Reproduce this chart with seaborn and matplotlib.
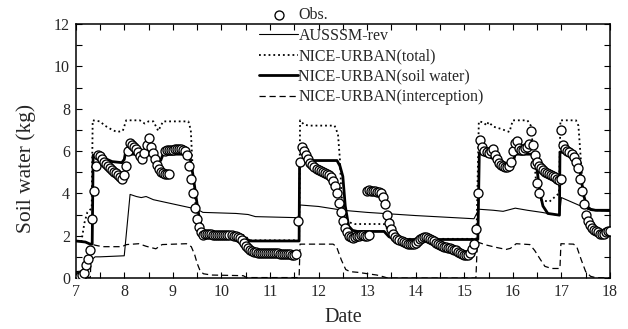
import numpy as np
import pandas as pd
import matplotlib
matplotlib.use("Agg")
import matplotlib.pyplot as plt
import seaborn as sns
from matplotlib.ticker import MultipleLocator

sns.set_theme(style="ticks")
plt.rcParams["font.family"] = ["Liberation Serif", "DejaVu Serif"]

# ---- model output (day of month, kg) ----
aus_t = [7.0, 7.2, 7.3, 7.4, 7.5, 8.0, 8.06, 8.12, 8.25, 8.35, 8.45, 8.6, 9.0, 9.5,
         9.62, 10.3, 10.55, 10.7, 11.58, 11.62, 12.0, 12.5, 13.0, 14.0, 15.2, 15.3,
         15.6, 15.8, 16.05, 16.3, 16.6, 16.96, 17.0, 17.2, 17.6, 18.0]
aus_v = [0.3, 0.35, 0.8, 1.0, 1.0, 1.05, 2.5, 3.95, 3.85, 3.8, 3.85, 3.7, 3.5, 3.25,
         3.1, 3.05, 3.0, 2.9, 2.85, 3.45, 3.38, 3.2, 3.1, 2.95, 2.8, 3.25,
         3.2, 3.15, 3.3, 3.2, 3.1, 2.95, 3.8, 3.6, 3.2, 3.15]

tot_t = [7.0, 7.12, 7.18, 7.24, 7.33, 7.35, 7.5, 7.6, 7.75, 7.85, 7.97, 8.04, 8.32,
         8.42, 8.5, 8.6, 8.7, 8.8, 9.32, 9.37, 9.42, 9.48, 9.53, 9.6, 9.75, 10.3,
         10.45, 10.6, 11.6, 11.62, 11.7, 11.8, 12.33, 12.4, 12.44, 12.47, 12.53,
         12.6, 12.75, 13.35, 13.42, 13.5, 13.6, 15.25, 15.3, 15.4, 15.46, 15.5, 15.6,
         15.75, 15.93, 16.0, 16.3, 16.37, 16.44, 16.48, 16.56, 16.75, 16.95, 16.98,
         17.3, 17.35, 17.4, 17.44, 17.48, 17.6, 18.0]
tot_v = [1.75, 1.75, 2.6, 3.1, 3.3, 7.45, 7.4, 7.2, 7.0, 6.9, 6.95, 7.45, 7.45,
         7.3, 7.4, 7.4, 6.95, 7.4, 7.4, 7.0, 4.6, 3.2, 2.4, 2.15, 2.1, 2.05,
         2.03, 1.78, 1.78, 7.45, 7.25, 7.2, 7.2, 6.8, 5.6, 4.0, 2.9,
         2.65, 2.55, 2.55, 2.3, 1.95, 1.85, 1.85, 7.4, 7.35, 7.2, 7.37, 7.15,
         7.05, 6.9, 7.45, 7.45, 7.2, 5.6, 4.5, 3.7, 3.6, 4.0, 7.45,
         7.45, 7.2, 5.6, 4.3, 3.35, 3.2, 3.2]

soil_t = [7.0, 7.2, 7.3, 7.34, 7.36, 7.5, 7.75, 7.95, 8.0, 8.02, 8.65, 8.7, 8.75,
          8.8, 9.3, 9.36, 9.42, 9.48, 9.54, 9.6, 9.66, 9.75, 10.3, 10.45, 10.55,
          10.6, 11.6, 11.61, 12.38, 12.44, 12.5, 12.55, 12.62, 12.7, 12.8, 13.35,
          13.45, 13.55, 13.65, 15.28, 15.31, 15.5, 15.75, 15.95, 16.02, 16.05, 16.4,
          16.45, 16.5, 16.56, 16.62, 16.72, 16.96, 16.97, 17.25, 17.33, 17.4, 17.46,
          17.52, 17.6, 17.7, 18.0]
soil_v = [1.75, 1.7, 1.6, 1.6, 5.8, 5.75, 5.5, 5.45, 5.6, 5.85, 5.85, 5.65, 5.55,
          5.85, 5.85, 5.6, 4.8, 3.8, 2.9, 2.3, 2.05, 2.0, 1.98, 1.95, 1.8,
          1.75, 1.75, 5.55, 5.55, 5.3, 4.8, 3.4, 2.45, 2.25, 2.2, 2.2,
          1.95, 1.85, 1.82, 1.82, 5.9, 5.75, 5.45, 5.4, 5.6, 5.85, 5.85,
          5.5, 5.1, 4.0, 3.4, 3.05, 2.97, 5.95, 5.9, 5.6, 4.8, 3.9,
          3.4, 3.25, 3.2, 3.2]

icp_t = [7.0, 7.3, 7.33, 7.4, 7.55, 7.95, 8.05, 8.3, 8.45, 8.65, 8.78, 9.28, 9.38,
         9.45, 9.5, 9.56, 9.63, 9.8, 10.45, 10.52, 11.6, 11.62, 12.3, 12.37, 12.47,
         12.56, 12.65, 12.8, 13.2, 13.35, 13.42, 15.24, 15.27, 15.45, 15.65, 15.86,
         15.95, 16.07, 16.35, 16.45, 16.56, 16.66, 16.8, 16.97, 16.99, 17.25, 17.32,
         17.41, 17.5, 17.6, 17.7, 18.0]
icp_v = [0.02, 0.02, 1.6, 1.55, 1.48, 1.48, 1.58, 1.62, 1.5, 1.38, 1.58, 1.62, 1.48,
         1.1, 0.7, 0.35, 0.2, 0.14, 0.11, 0.02, 0.02, 1.6, 1.6, 1.48, 0.85,
         0.4, 0.3, 0.27, 0.14, 0.05, 0.0, 0.0, 1.7, 1.56, 1.45, 1.35,
         1.4, 1.62, 1.58, 1.3, 0.9, 0.55, 0.45, 0.45, 1.62, 1.6, 1.45,
         0.85, 0.3, 0.08, 0.02, 0.0]

# ---- hourly observations, one list per continuous record ----
obs_start = [7.0, 8 + 20 / 24, 13.0, 16 + 11 / 24, 17.0]
obs_vals = [
    [0.05, 0.05, 0.08, 0.15, 0.25, 0.6, 0.9, 1.3, 2.8, 4.1, 5.3, 5.8, 5.75, 5.6, 5.5,
     5.4, 5.3, 5.2, 5.1, 5.0, 4.95, 4.85, 4.75, 4.7, 4.85, 5.3, 6.0, 6.4, 6.3, 6.2,
     6.1, 5.95, 5.75, 5.6, 5.9, 6.3, 6.6, 6.2, 5.9, 5.6, 5.35, 5.15, 5.0, 4.95, 4.9,
     4.9, 4.9],
    [6.0, 6.05, 6.05, 6.05, 6.05, 6.1, 6.1, 6.1, 6.1, 6.05, 6.0, 5.8, 5.3, 4.7, 4.0,
     3.3, 2.8, 2.4, 2.15, 2.05, 2.1, 2.1, 2.1, 2.1, 2.05, 2.05, 2.05, 2.05, 2.05, 2.05,
     2.05, 2.05, 2.05, 2.05, 2.0, 2.0, 1.95, 1.9, 1.8, 1.65, 1.5, 1.4, 1.32, 1.27,
     1.25, 1.22, 1.2, 1.2, 1.2, 1.2, 1.18, 1.18, 1.18, 1.17, 1.17, 1.16, 1.16, 1.15,
     1.15, 1.14, 1.13, 1.12, 1.12, 1.1, 1.1, 1.12, 2.7, 5.5, 6.2, 6.0, 5.8, 5.6, 5.45,
     5.35, 5.25, 5.15, 5.1, 5.05, 5.0, 4.95, 4.9, 4.85, 4.75, 4.6, 4.35, 4.0, 3.55,
     3.1, 2.7, 2.35, 2.15, 2.0, 1.95, 1.9, 1.95, 2.0, 2.0, 2.05, 2.05, 2.0, 2.0, 2.05],
    [4.1, 4.15, 4.1, 4.1, 4.1, 4.05, 4.05, 4.0, 3.85, 3.5, 3.0, 2.6, 2.3, 2.1, 1.95,
     1.85, 1.8, 1.75, 1.7, 1.65, 1.6, 1.6, 1.6, 1.6, 1.65, 1.75, 1.85, 1.9, 1.95, 1.95,
     1.9, 1.85, 1.8, 1.75, 1.65, 1.6, 1.55, 1.5, 1.45, 1.45, 1.4, 1.4, 1.35, 1.3, 1.3,
     1.25, 1.2, 1.15, 1.1, 1.1, 1.1, 1.2, 1.35, 1.6, 2.3, 4.0, 6.5, 6.2, 6.0, 5.95,
     5.9, 6.0, 6.1, 5.8, 5.6, 5.45, 5.35, 5.3, 5.25, 5.25, 5.3, 5.5, 6.0, 6.4, 6.45,
     6.15, 6.05, 6.05, 6.15, 6.2, 6.35, 6.95, 6.3, 5.4, 4.5, 4.0],
    [5.8, 5.5, 5.3, 5.2, 5.1, 5.0, 4.95, 4.9, 4.85, 4.8, 4.75, 4.7, 4.65, 4.7],
    [7.0, 6.3, 6.1, 6.0, 5.95, 5.85, 5.7, 5.5, 5.2, 4.7, 4.1, 3.5, 3.0, 2.7, 2.5,
     2.35, 2.25, 2.2, 2.15, 2.1, 2.1, 2.1, 2.15, 2.2, 2.2],
]

obs = pd.concat(
    [pd.DataFrame({"t": s + np.arange(len(v)) / 24.0, "v": v})
     for s, v in zip(obs_start, obs_vals)],
    ignore_index=True,
)

fig = plt.figure(figsize=(6.28, 3.29), dpi=100)
ax = fig.add_axes([0.1205, 0.155, 0.8508, 0.772])

line_kw = dict(ax=ax, color="black", estimator=None, sort=False)
sns.lineplot(x=aus_t, y=aus_v, lw=0.8, label="AUSSSM-rev", **line_kw)
sns.lineplot(x=tot_t, y=tot_v, lw=1.3, linestyle=":", label="NICE-URBAN(total)", **line_kw)
sns.lineplot(x=soil_t, y=soil_v, lw=2.0, label="NICE-URBAN(soil water)", **line_kw)
sns.lineplot(x=icp_t, y=icp_v, lw=0.9, linestyle=(0, (5, 3)),
             label="NICE-URBAN(interception)", **line_kw)
sns.scatterplot(data=obs, x="t", y="v", ax=ax, marker="o", s=42, color="white",
                edgecolor="black", linewidth=0.95, zorder=3, label="Obs.")

ax.set_xlim(7, 18)
ax.set_ylim(0, 12)
ax.xaxis.set_major_locator(MultipleLocator(1))
ax.xaxis.set_minor_locator(MultipleLocator(0.5))
ax.yaxis.set_major_locator(MultipleLocator(2))
ax.yaxis.set_minor_locator(MultipleLocator(1))
ax.tick_params(which="both", direction="in", top=True, right=True, color="black",
               width=0.8, labelsize=11.5, pad=4)
ax.tick_params(which="major", length=4.5)
ax.tick_params(which="minor", length=4)
for sp in ax.spines.values():
    sp.set_linewidth(1.1)
    sp.set_color("black")

ax.set_xlabel("Date", fontsize=14.5, labelpad=6)
ax.set_ylabel("Soil water (kg)", fontsize=15.5, labelpad=8)
ax.yaxis.set_label_coords(-0.075, 0.43)

handles, labels = ax.get_legend_handles_labels()
order = ["Obs.", "AUSSSM-rev", "NICE-URBAN(total)", "NICE-URBAN(soil water)",
         "NICE-URBAN(interception)"]
hmap = dict(zip(labels, handles))
ax.legend([hmap[k] for k in order], order, loc="upper left",
          bbox_to_anchor=(0.413, 0.978), bbox_transform=fig.transFigure,
          frameon=False, fontsize=11.5, handlelength=2.4, handletextpad=0.05,
          labelspacing=0.28, borderpad=0, borderaxespad=0)

fig.savefig("out.png", dpi=100)
